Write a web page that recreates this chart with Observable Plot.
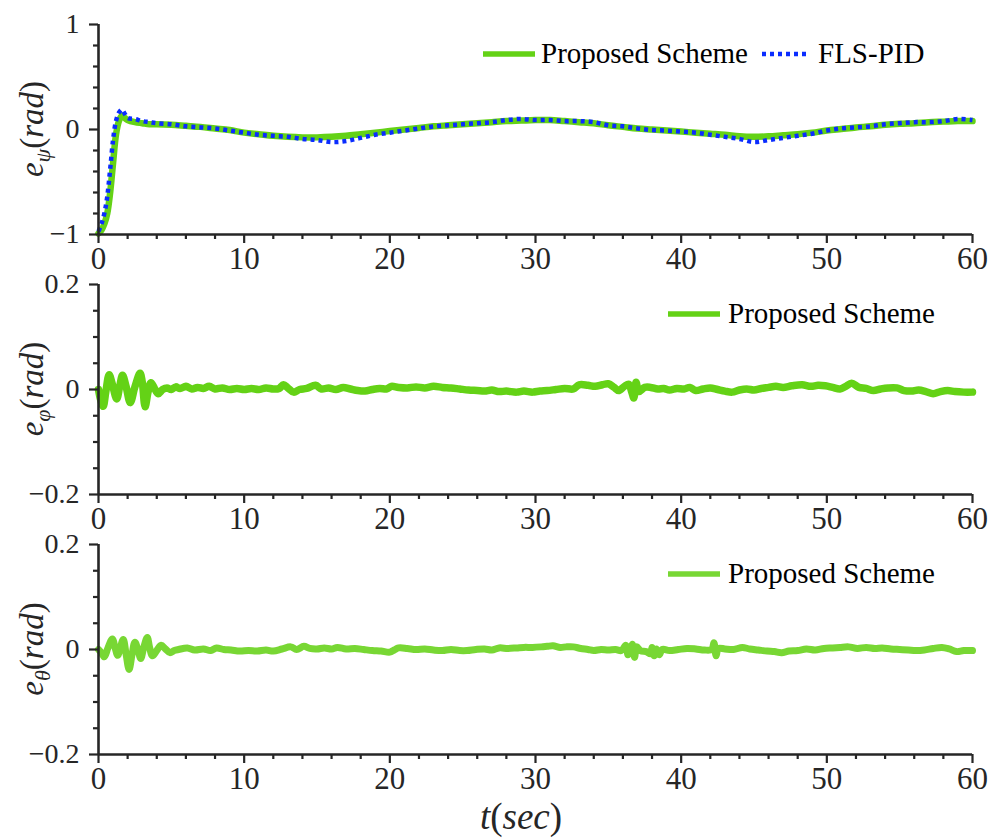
<!DOCTYPE html>
<html><head><meta charset="utf-8">
<script src="https://cdn.jsdelivr.net/npm/d3@7"></script>
<script src="https://cdn.jsdelivr.net/npm/@observablehq/plot@0.6"></script>
<style>
html,body{margin:0;padding:0;background:#fff;}
#chart{width:1000px;height:839px;position:relative;overflow:hidden;}
#chart svg{display:block;}
#chart svg text{font-family:'Liberation Serif','Times New Roman',serif !important;}
</style></head><body><div id="chart"></div>
<script>
// ---------- data ----------
const xMajorTicks = [0, 10, 20, 30, 40, 50, 60];
const xMinorTicks = [2,4,6,8,12,14,16,18,22,24,26,28,32,34,36,38,42,44,46,48,52,54,56,58];
const seriesNames = ["Proposed Scheme", "FLS-PID"];

// Panel 1: e_psi
const tPsi = [0,0.2,0.4,0.6,0.8,1.0,1.2,1.4,1.6,1.8,2.0,2.5,3,3.5,4,5,6,7,8,9,10,11,12,13,14,15,16,17,18,19,20,21,22,23,24,25,26,27,28,29,30,31,32,33,34,35,36,37,38,39,40,41,42,43,44,45,46,47,48,49,50,51,52,53,54,55,56,57,58,59,60];
const psiProposed = [-0.99,-0.96,-0.90,-0.80,-0.60,-0.32,-0.05,0.08,0.13,0.11,0.09,0.07,0.06,0.05,0.05,0.045,0.035,0.025,0.01,-0.005,-0.03,-0.045,-0.06,-0.07,-0.075,-0.075,-0.07,-0.06,-0.045,-0.03,-0.015,0.0,0.015,0.03,0.04,0.05,0.06,0.07,0.08,0.085,0.09,0.09,0.08,0.07,0.06,0.04,0.025,0.01,0.0,-0.01,-0.02,-0.03,-0.04,-0.05,-0.065,-0.07,-0.065,-0.055,-0.045,-0.03,-0.01,0.005,0.02,0.03,0.045,0.055,0.06,0.07,0.075,0.08,0.08];
const psiFLS = [-0.97,-0.90,-0.80,-0.64,-0.38,-0.10,0.08,0.16,0.19,0.15,0.11,0.10,0.08,0.07,0.06,0.05,0.03,0.02,0.01,-0.01,-0.03,-0.05,-0.06,-0.07,-0.09,-0.10,-0.12,-0.11,-0.08,-0.05,-0.03,-0.01,0.01,0.03,0.04,0.05,0.06,0.07,0.09,0.10,0.09,0.09,0.08,0.08,0.07,0.04,0.03,0.01,-0.005,-0.01,-0.02,-0.03,-0.05,-0.07,-0.09,-0.12,-0.10,-0.08,-0.06,-0.04,-0.01,0.01,0.02,0.03,0.05,0.06,0.07,0.07,0.08,0.10,0.09];

// Panel 2: e_phi
const tPhi = [0,0.15,0.32,0.5,0.73,0.95,1.25,1.45,1.65,1.9,2.18,2.5,2.85,3.0,3.2,3.4,3.6,3.85,4.1,4.4,4.7,5.0,5.3,5.6,6.0,6.4,6.8,7.2,7.6,8.0,8.5,9.0,9.5,10.0,10.5,11.0,11.5,12.0,12.4,12.7,13.0,13.4,13.8,14.3,14.9,15.3,15.8,16.3,16.8,17.3,17.8,18.3,18.8,19.3,19.8,20.1,20.6,21.2,21.8,22.4,23.0,23.6,24.2,24.8,25.4,26.0,26.5,27.0,27.5,28.0,28.7,29.2,29.8,30.3,30.8,31.4,32.0,32.6,33.0,33.6,34.1,34.6,35.0,35.4,35.7,36.1,36.4,36.6,36.75,36.9,37.1,37.5,37.9,38.4,38.8,39.2,39.7,40.2,40.6,41.0,41.5,42.0,42.5,43.0,43.5,44.0,44.5,45.0,45.5,46.0,46.5,47.0,47.6,48.3,48.9,49.4,49.9,50.4,50.9,51.3,51.7,52.2,52.7,53.2,53.7,54.2,54.8,55.3,55.8,56.3,56.8,57.3,57.8,58.3,58.8,59.4,60.0];
const phiProposed = [0,-0.02,-0.032,-0.005,0.028,0.01,-0.018,0.005,0.027,0.005,-0.025,0.005,0.031,0.015,-0.033,-0.005,0.013,0.002,-0.008,0.0,0.003,0.0,0.005,0.002,0.006,0.001,0.004,0.002,0.006,0.001,0.003,0.0,0.002,0.0,0.002,0.0,0.003,0.001,0.002,0.009,0.003,-0.005,0.0,0.002,0.008,0.001,0.003,0.0,0.004,0.001,-0.002,-0.003,0.0,0.002,0.001,0.006,0.004,0.003,0.005,0.003,0.006,0.004,0.003,0.001,-0.001,-0.002,-0.003,-0.001,-0.004,-0.003,-0.005,-0.003,-0.005,-0.003,-0.002,0.0,0.002,0.001,0.009,0.008,0.006,0.009,0.011,0.004,-0.002,0.006,0.01,-0.004,-0.016,0.014,-0.004,0.004,0.004,0.001,0.002,-0.001,0.002,0.001,0.004,-0.002,0.001,0.003,0.0,-0.003,-0.005,-0.001,0.001,-0.001,0.002,0.004,0.006,0.004,0.007,0.009,0.006,0.008,0.007,0.004,0.001,0.006,0.012,0.004,0.002,-0.002,0.001,0.003,0.003,-0.002,-0.003,-0.001,-0.004,-0.008,-0.004,-0.002,-0.004,-0.005,-0.005];

// Panel 3: e_theta
const tTheta = [0,0.2,0.4,0.65,0.95,1.15,1.32,1.5,1.7,1.9,2.1,2.3,2.5,2.7,2.9,3.1,3.35,3.5,3.7,4.0,4.3,4.6,4.9,5.2,5.5,6.1,6.6,7.2,7.7,8.1,8.6,9.1,9.7,10.3,10.9,11.5,12.0,12.6,13.2,13.6,14.1,14.5,15.0,15.5,16.0,16.4,17.0,17.6,18.2,18.8,19.4,20.0,20.3,20.6,21.2,21.8,22.4,23.0,23.6,24.2,24.8,25.3,25.9,26.5,27.0,27.5,28.1,28.7,29.2,29.8,30.4,30.8,31.2,31.7,32.1,32.6,33.1,33.6,34.0,34.5,35.0,35.5,35.9,36.2,36.35,36.5,36.65,36.8,36.95,37.2,37.6,37.9,38.0,38.15,38.3,38.5,38.7,39.2,39.8,40.4,41.0,41.6,42.1,42.25,42.4,42.55,43.0,43.6,44.2,44.7,45.3,45.9,46.4,46.9,47.4,48.0,48.6,49.2,49.8,50.4,50.9,51.5,52.1,52.7,53.3,53.8,54.4,55.0,55.6,56.1,56.7,57.3,57.9,58.4,58.9,59.4,60.0];
const thetaProposed = [0.0,-0.006,-0.014,0.003,0.02,0.002,-0.011,0.004,0.019,-0.01,-0.038,-0.01,0.014,0.0,-0.017,0.003,0.023,0.005,-0.012,-0.002,0.008,0.001,-0.006,-0.002,0.0,0.003,-0.001,0.001,-0.002,0.003,0.0,-0.001,-0.003,-0.002,-0.003,-0.001,-0.003,0.001,0.005,0.0,0.006,0.002,0.001,0.003,0.001,0.004,0.001,0.002,0.0,-0.002,-0.003,-0.005,-0.001,0.003,0.002,0.0,0.001,-0.001,-0.002,0.0,-0.002,-0.002,0.0,0.001,-0.001,0.003,0.002,0.003,0.004,0.004,0.005,0.006,0.007,0.004,0.005,0.005,0.002,0.0,-0.002,0.0,-0.001,0.0,-0.002,0.008,-0.01,0.0,0.01,-0.015,0.005,-0.002,-0.004,-0.008,0.004,-0.012,0.001,-0.01,0.0,-0.002,0.0,0.002,0.001,-0.001,0.0,0.013,-0.012,0.002,0.001,0.0,0.004,0.001,-0.001,-0.003,-0.004,-0.006,-0.003,-0.002,0.001,-0.001,0.002,0.003,0.004,0.005,0.002,0.004,0.002,0.003,0.001,0.0,-0.001,-0.002,-0.001,0.002,0.004,0.001,-0.004,-0.002,-0.002];

// ---------- styles ----------
const FONT = "'Liberation Serif', 'Times New Roman', serif";
const AX = "#262626";
const GREEN = "#64d216";
const GREEN3 = "#78d734";
const BLUE = "#0a2cff";

const fmtMinus = d => (d < 0 ? "\u2212" + Math.abs(d) : String(d));

function makePanel(cfg) {
  const marks = [];
  for (const s of cfg.series) {
    const rows = s.t.map((t, i) => ({t, v: s.v[i], name: s.name}));
    marks.push(Plot.line(rows, {x: "t", y: "v", stroke: s.color, strokeWidth: s.width,
      strokeDasharray: s.dash, curve: "catmull-rom", strokeLinejoin: "round", strokeLinecap: s.dash ? "butt" : "round"}));
  }
  marks.push(
    Plot.axisY({ticks: cfg.yMinor, tickSize: 5, tickFormat: () => "", label: null, stroke: AX, strokeWidth: 2.2}),
    Plot.axisY({ticks: cfg.yMajor, tickSize: 9, tickPadding: 10, tickFormat: fmtMinus, label: null,
      stroke: AX, strokeWidth: 2.2, fontSize: 28, fill: AX}),
    Plot.axisX({ticks: xMinorTicks, tickSize: 5, tickFormat: () => "", label: null, stroke: AX, strokeWidth: 2.2}),
    Plot.axisX({ticks: xMajorTicks, tickSize: 9, tickPadding: 3, tickFormat: d => String(d), label: null,
      stroke: AX, strokeWidth: 2.2, fontSize: 31, fill: AX}),
    Plot.ruleX([0], {stroke: AX, strokeWidth: 2.6}),
    Plot.ruleY([cfg.yDomain[0]], {stroke: AX, strokeWidth: 2.6})
  );
  const svg = Plot.plot({
    width: 1000, height: cfg.height,
    marginLeft: 98, marginRight: 28, marginTop: 24, marginBottom: cfg.marginBottom,
    x: {domain: [0, 60]},
    y: {domain: cfg.yDomain},
    style: {fontFamily: FONT, fontSize: "28px", color: AX, background: "#fff", overflow: "visible"},
    marks
  });
  const sel = d3.select(svg);
  const yc = svg.scale("y").apply(0);
  // y label
  const lab = sel.append("text")
    .attr("transform", `translate(43,${yc}) rotate(-90)`)
    .attr("text-anchor", "middle")
    .attr("fill", AX)
    .style("font-family", FONT).style("font-size", "33px");
  lab.append("tspan").style("font-style", "italic").text("e");
  lab.append("tspan").style("font-style", "italic").style("font-size", "22px").attr("dy", 7).text(cfg.sub);
  lab.append("tspan").attr("dy", -7).text("(");
  lab.append("tspan").style("font-style", "italic").text("rad");
  lab.append("tspan").text(")");
  // legend
  const lg = sel.append("g").style("font-family", FONT).style("font-size", "29px").attr("fill", "#000")
    .attr("text-anchor", "start");
  for (const it of cfg.legend) {
    lg.append("line").attr("x1", it.x1).attr("x2", it.x2).attr("y1", it.y).attr("y2", it.y)
      .attr("stroke", it.color).attr("stroke-width", it.width)
      .attr("stroke-dasharray", it.dash || null);
    lg.append("text").attr("x", it.tx).attr("y", it.y + 9).attr("text-anchor", "start").text(it.label);
  }
  if (cfg.xTitle) {
    const tt = sel.append("text").attr("x", 521).attr("y", 309).attr("text-anchor", "middle")
      .attr("fill", AX).style("font-family", FONT).style("font-size", "37px");
    tt.append("tspan").style("font-style", "italic").text("t");
    tt.append("tspan").text("(");
    tt.append("tspan").style("font-style", "italic").text("sec");
    tt.append("tspan").text(")");
  }
  return svg;
}

const root = document.getElementById("chart");

root.appendChild(makePanel({
  height: 260, marginBottom: 26, yDomain: [-1, 1],
  yMajor: [-1, 0, 1], yMinor: [-0.8,-0.6,-0.4,-0.2,0.2,0.4,0.6,0.8],
  sub: "\u03C8",
  series: [
    {t: tPsi, v: psiProposed, name: seriesNames[0], color: GREEN, width: 6.5},
    {t: tPsi, v: psiFLS, name: seriesNames[1], color: BLUE, width: 4.5, dash: "4,4"}
  ],
  legend: [
    {x1: 483, x2: 535, y: 54, color: GREEN, width: 5.5, tx: 541, label: seriesNames[0]},
    {x1: 762, x2: 809, y: 54, color: BLUE, width: 4.5, dash: "4,4", tx: 818, label: seriesNames[1]}
  ]
}));

root.appendChild(makePanel({
  height: 260, marginBottom: 26, yDomain: [-0.2, 0.2],
  yMajor: [-0.2, 0, 0.2], yMinor: [-0.15,-0.1,-0.05,0.05,0.1,0.15],
  sub: "\u03C6",
  series: [{t: tPhi, v: phiProposed, name: seriesNames[0], color: GREEN, width: 7.5}],
  legend: [{x1: 668, x2: 720, y: 54, color: GREEN, width: 5.5, tx: 728, label: seriesNames[0]}]
}));

root.appendChild(makePanel({
  height: 319, marginBottom: 85, yDomain: [-0.2, 0.2],
  yMajor: [-0.2, 0, 0.2], yMinor: [-0.15,-0.1,-0.05,0.05,0.1,0.15],
  sub: "\u03B8",
  series: [{t: tTheta, v: thetaProposed, name: seriesNames[0], color: GREEN3, width: 7}],
  legend: [{x1: 668, x2: 720, y: 54, color: GREEN3, width: 5.5, tx: 728, label: seriesNames[0]}],
  xTitle: true
}));
</script></body></html>
